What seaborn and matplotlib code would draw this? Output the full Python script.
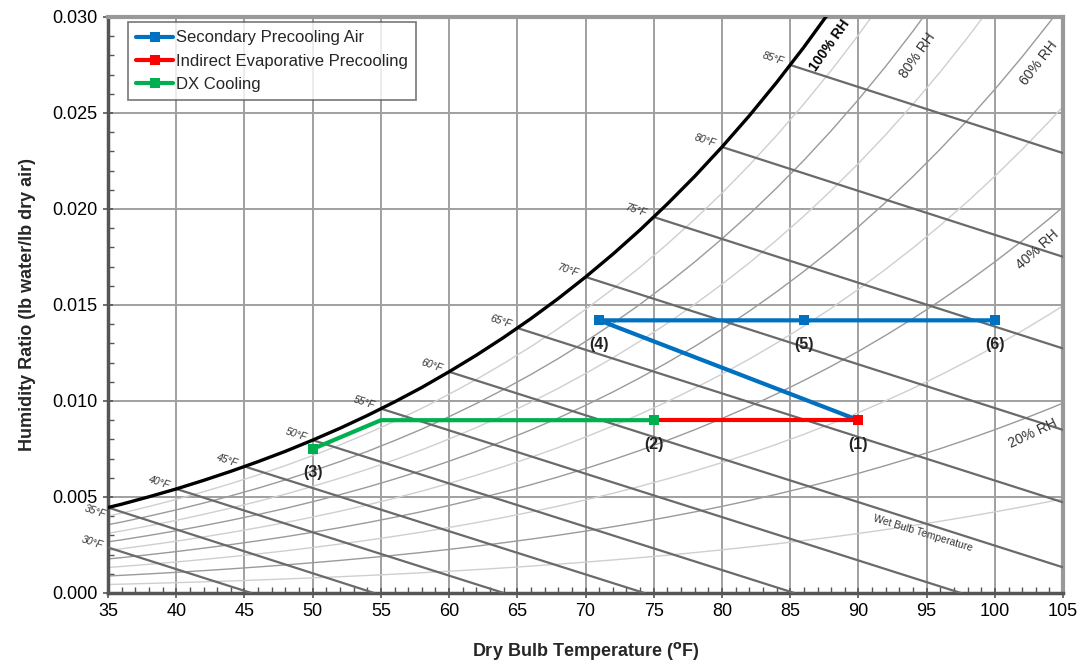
import numpy as np
import pandas as pd
import matplotlib.pyplot as plt
from matplotlib.ticker import MultipleLocator, FormatStrFormatter
import seaborn as sns

### CONFIGS ###
p_total = 14.09  # psia, matches the saturation curve drawn in the chart

## saturation vapour pressure table (dry bulb F -> psia)
sat_temps = [34, 36, 38, 40, 42, 44, 46, 48, 50, 52, 54, 56, 58, 60, 62, 64, 66, 68, 70,
             72, 74, 76, 78, 80, 82, 84, 86, 88, 90, 92, 94, 96, 98, 100, 102, 104, 105]
sat_press = [0.0963, 0.1040, 0.1126, 0.1217, 0.1316, 0.1421, 0.1533, 0.1652, 0.1781, 0.1917,
             0.2063, 0.2219, 0.2384, 0.2563, 0.2751, 0.2952, 0.3165, 0.3391, 0.3632, 0.3887,
             0.4158, 0.4446, 0.4750, 0.5073, 0.5414, 0.5776, 0.6158, 0.6562, 0.6988, 0.7439,
             0.7914, 0.8416, 0.8945, 0.9503, 1.0090, 1.0708, 1.1030]

## relative humidity curves
rh_levels = [0.1, 0.2, 0.3, 0.4, 0.5, 0.6, 0.7, 0.8, 0.9]
rh_text = ['100% RH', '80% RH', '60% RH', '40% RH', '20% RH']
rh_text_x = [87.9, 94.3, 103.2, 103.1, 102.8]
rh_text_y = [0.0285, 0.0280, 0.0276, 0.01786, 0.00833]
rh_text_rot = [55, 55, 52, 42, 25]

## wet bulb lines: saturation point and the dry bulb where W reaches 0
wb_temps = [30, 35, 40, 45, 50, 55, 60, 65, 70, 75, 80, 85]
wb_sat_ratio = [0.0035, 0.00445, 0.00542, 0.00659, 0.00796, 0.00960, 0.01152, 0.01380,
                0.01646, 0.01958, 0.02323, 0.02750]
wb_zero_temp = [45.5, 54.5, 64.0, 74.3, 85.3, 97.5, 110.9, 125.8, 142.3, 160.8, 181.5, 204.8]

## process lines
secondary_t = [90, 71, 86, 100]
secondary_w = [0.0090, 0.0142, 0.0142, 0.0142]
indirect_t = [75, 90]
indirect_w = [0.0090, 0.0090]
dx_t = [50, 55, 75]
dx_w = [0.0075, 0.0090, 0.0090]

state_names = ['(1)', '(2)', '(3)', '(4)', '(5)', '(6)']
state_t = [90, 75, 50, 71, 86, 100]
state_w = [0.0090, 0.0090, 0.0075, 0.0142, 0.0142, 0.0142]

c_blue = '#0070C0'
c_red = '#FF0000'
c_green = '#00B050'

#####################################
sns.set_theme(style='white')
plt.rcParams['font.family'] = ['Liberation Sans', 'DejaVu Sans']

fig = plt.figure(figsize=(10.87, 6.63), dpi=100)
ax = fig.add_axes([0.0994, 0.1056, 0.8786, 0.8688])

## background: relative humidity curves
ps = np.array(sat_press)
for rh in rh_levels:
    w = 0.622 * rh * ps / (p_total - rh * ps)
    even = round(rh * 10) % 2 == 0
    ax.plot(sat_temps, w, color='#9a9a9a' if even else '#cfcfcf', lw=1.0, zorder=2)

## wet bulb lines
for t, ws, t0 in zip(wb_temps, wb_sat_ratio, wb_zero_temp):
    ax.plot([t, t0], [ws, 0], color='#6a6a6a', lw=1.6, zorder=3)

## saturation curve
w_sat = 0.622 * ps / (p_total - ps)
ax.plot(sat_temps, w_sat, color='black', lw=2.4, zorder=4)

## wet bulb labels
for t, ws, t0 in zip(wb_temps, wb_sat_ratio, wb_zero_temp):
    if t < 35:
        xy = (35, ws * (1 - (35 - t) / (t0 - t)))
        off = (-16, 5)
    elif t == 35:
        xy = (35, ws)
        off = (-13, -4)
    else:
        xy = (t, ws)
        off = (-17, 6)
    ax.annotate(f'{t}°F', xy=xy, xytext=off, textcoords='offset pixels', ha='center',
                va='center', rotation=-18, fontsize=7.5, style='italic', color='#333333',
                annotation_clip=False)

ax.text(94.7, 0.00313, 'Wet Bulb Temperature', rotation=-17, fontsize=7.5, color='#333333',
        ha='center', va='center')

for i, (txt, x, y, r) in enumerate(zip(rh_text, rh_text_x, rh_text_y, rh_text_rot)):
    ax.text(x, y, txt, rotation=r, fontsize=10, ha='center', va='center',
            color='black' if i == 0 else '#333333', fontweight='bold' if i == 0 else 'normal')

## process lines
sns.lineplot(x=secondary_t, y=secondary_w, sort=False, estimator=None, color=c_blue, lw=3,
             marker='s', markersize=7, markeredgewidth=0, label='Secondary Precooling Air',
             ax=ax, zorder=6)
sns.lineplot(x=indirect_t, y=indirect_w, sort=False, estimator=None, color=c_red, lw=3,
             marker='s', markersize=7, markeredgewidth=0, label='Indirect Evaporative Precooling',
             ax=ax, zorder=7)
sns.lineplot(x=dx_t, y=dx_w, sort=False, estimator=None, color=c_green, lw=3,
             marker='s', markersize=7, markeredgewidth=0, markevery=[0, 2], label='DX Cooling',
             ax=ax, zorder=8)

for name, t, w in zip(state_names, state_t, state_w):
    ax.annotate(name, xy=(t, w), xytext=(0, -24), textcoords='offset pixels', ha='center',
                va='center', fontsize=11.5, fontweight='bold', color='#222222', zorder=9)

## axes formatting
ax.set_xlim(35, 105)
ax.set_ylim(0, 0.030)
ax.xaxis.set_major_locator(MultipleLocator(5))
ax.yaxis.set_major_locator(MultipleLocator(0.005))
ax.xaxis.set_minor_locator(MultipleLocator(1))
ax.yaxis.set_minor_locator(MultipleLocator(0.001))
ax.yaxis.set_major_formatter(FormatStrFormatter('%.3f'))
ax.grid(True, which='major', color='#a0a0a0', lw=1.4, zorder=1)
ax.set_axisbelow(True)
ax.tick_params(which='major', direction='inout', length=7, width=1.2, colors='#555555',
               labelsize=13, labelcolor='black', pad=4, bottom=True, left=True)
ax.tick_params(which='minor', direction='in', length=4, width=1, colors='#555555',
               bottom=True, left=True)
for side in ['top', 'right']:
    ax.spines[side].set_color('#999999')
    ax.spines[side].set_linewidth(3)
for side in ['bottom', 'left']:
    ax.spines[side].set_color('#555555')
    ax.spines[side].set_linewidth(2.5)

ax.set_xlabel(r'Dry Bulb Temperature ($^{\mathbf{o}}$F)', fontsize=13, fontweight='bold', labelpad=14)
ax.set_ylabel('Humidity Ratio (lb water/lb dry air)', fontsize=13, fontweight='bold', labelpad=12)

leg = ax.legend(loc='upper left', bbox_to_anchor=(0.021, 0.991), borderaxespad=0,
                fontsize=12, frameon=True, fancybox=False, edgecolor='#555555',
                handlelength=2.2, handletextpad=0.15, labelspacing=0.5, borderpad=0.5)
leg.get_frame().set_linewidth(1.2)
leg.set_zorder(10)

fig.savefig('out.png', dpi=100)
